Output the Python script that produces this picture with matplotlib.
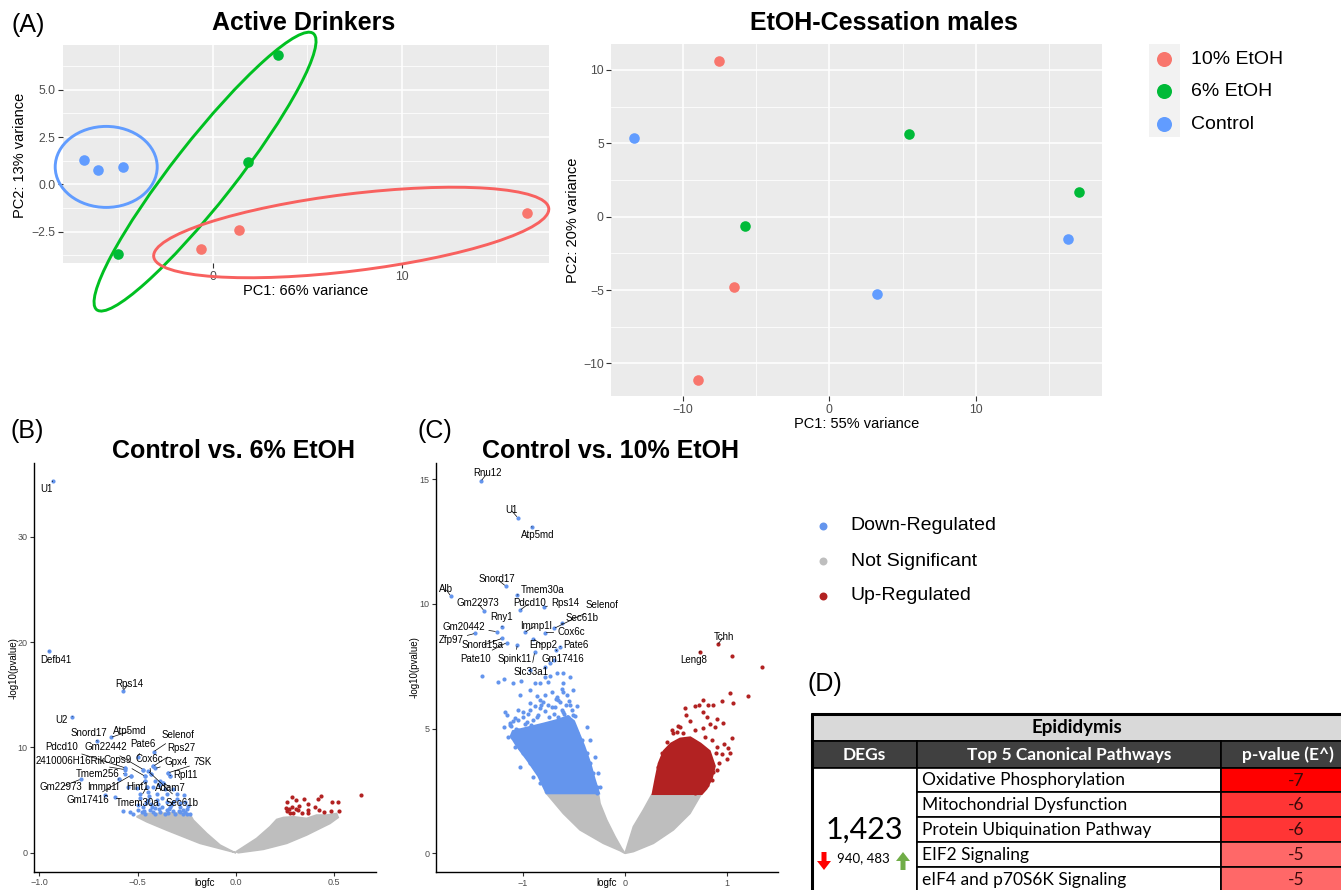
import numpy as np
import matplotlib
matplotlib.use('Agg')
import matplotlib.pyplot as plt
from matplotlib.patches import Ellipse, Rectangle, Polygon, FancyArrow
import matplotlib.transforms as mtransforms
from matplotlib.ticker import FixedLocator, FuncFormatter

plt.rcParams['font.family'] = ['Liberation Sans', 'DejaVu Sans']

# ---------------- DATA ----------------
groups = ['10% EtOH', '6% EtOH', 'Control']
group_colors = ['#F8766D', '#00BA38', '#619CFF']

# PCA: Active drinkers
act_pc1_e10 = [-0.65, 1.38, 16.64]
act_pc2_e10 = [-3.44, -2.43, -1.50]
act_pc1_e6 = [3.42, 1.83, -5.03]
act_pc2_e6 = [6.84, 1.20, -3.69]
act_pc1_ctl = [-6.83, -6.12, -4.80]
act_pc2_ctl = [1.29, 0.76, 0.93]

# PCA: EtOH-cessation males
ces_pc1_e10 = [-7.48, -6.52, -8.94]
ces_pc2_e10 = [10.63, -4.79, -11.16]
ces_pc1_e6 = [5.47, 17.06, -5.72]
ces_pc2_e6 = [5.62, 1.66, -0.63]
ces_pc1_ctl = [-13.34, 16.29, 3.24]
ces_pc2_ctl = [5.39, -1.54, -5.25]

# Volcano legend
reg_labels = ['Down-Regulated', 'Not Significant', 'Up-Regulated']
reg_colors = ['#6495ED', '#BEBEBE', '#B22222']

# Volcano B (Control vs 6% EtOH)
b_down_x = [-0.563, -0.536, -0.595, -0.471, -0.42, -0.434, -0.344, -0.336, -0.463, -0.464,
            -0.41, -0.386, -0.369, -0.549, -0.502, -0.454, -0.42, -0.39, -0.361, -0.319,
            -0.664, -0.614, -0.488, -0.446, -0.403, -0.353, -0.302, -0.263, -0.488, -0.446,
            -0.403, -0.353, -0.319, -0.285, -0.259, -0.471, -0.429, -0.378, -0.336, -0.285,
            -0.251, -0.573, -0.539, -0.522, -0.48, -0.437, -0.386, -0.353, -0.319, -0.285,
            -0.251, -0.463, -0.412, -0.361, -0.31, -0.268, -0.234, -0.395, -0.33, -0.27,
            -0.46, -0.5, -0.375, -0.3, -0.245, -0.42, -0.345, -0.44, -0.39, -0.29,
            -0.47, -0.41, -0.34, -0.26, -0.5, -0.43]
b_down_y = [8.06, 7.33, 7.02, 7.9, 8.22, 7.52, 7.59, 7.33, 7.27, 6.83,
            6.83, 6.79, 6.63, 6.25, 6.16, 6.25, 6.25, 6.41, 6.1, 6.1,
            5.46, 5.3, 5.62, 5.78, 5.62, 5.62, 5.62, 5.46, 5.24, 4.98,
            4.98, 4.83, 4.83, 4.73, 4.83, 4.35, 4.35, 4.35, 4.35, 4.35,
            4.19, 3.97, 3.87, 3.65, 3.87, 4.03, 3.87, 4.03, 3.97, 3.87,
            3.71, 3.71, 3.65, 3.71, 3.65, 3.65, 3.65, 4.6, 4.5, 4.1,
            4.7, 4.55, 5.2, 5.1, 4.4, 3.9, 3.8, 5.4, 4.15, 4.0,
            4.0, 4.25, 4.2, 3.9, 4.1, 4.6]
b_up_x = [0.283, 0.261, 0.305, 0.346, 0.364, 0.322, 0.254, 0.258, 0.275, 0.292,
          0.317, 0.334, 0.368, 0.368, 0.402, 0.424, 0.432, 0.415, 0.447, 0.486,
          0.52, 0.483, 0.525, 0.634, 0.305, 0.271, 0.286]
b_up_y = [5.32, 4.78, 5.0, 5.09, 4.59, 4.43, 4.21, 3.99, 3.80, 3.73,
          4.05, 3.73, 4.05, 3.73, 4.30, 4.05, 5.38, 5.06, 3.89, 4.84,
          4.84, 3.96, 3.99, 5.47, 4.11, 4.11, 4.37]
b_ns_left_x = [0.0, -0.183, -0.353, -0.454, -0.505, -0.471, -0.403, -0.319, -0.234,
               -0.217, -0.149, -0.081, -0.014]
b_ns_left_y = [0.0, 0.89, 2.15, 2.94, 3.42, 3.73, 3.73, 3.8, 3.67,
               3.1, 1.84, 0.73, 0.09]
b_ns_right_x = [0.0, 0.105, 0.173, 0.207, 0.241, 0.292, 0.359, 0.41, 0.461, 0.512,
                0.52, 0.478, 0.427, 0.359, 0.258, 0.139, 0.012]
b_ns_right_y = [0.09, 1.36, 2.47, 3.16, 3.35, 3.42, 3.26, 3.58, 3.58, 3.73,
                3.35, 2.78, 2.31, 1.68, 0.89, 0.32, 0.0]
b_lab_name = ['U1', 'Defb41', 'Rps14', 'U2', 'Snord17', 'Atp5md', 'Selenof', 'Pdcd10',
              'Gm22442', 'Pate6', 'Rps27', '2410006H16Rik', 'Cops9', 'Cox6c', 'Gpx4', '7SK',
              'Rpl11', 'Tmem256', 'Gm22973', 'Immp1l', 'Hint1', 'Adam7', 'Gm17416',
              'Tmem30a', 'Sec61b']
b_lab_tx = [-0.963, -0.917, -0.544, -0.885, -0.749, -0.539, -0.293, -0.888,
            -0.664, -0.475, -0.28, -0.841, -0.603, -0.441, -0.305, -0.169,
            -0.256, -0.705, -0.888, -0.675, -0.5, -0.332, -0.753, -0.5, -0.276]
b_lab_ty = [34.5, 18.3, 16.03, 12.6, 11.4, 11.56, 11.17, 10.0,
            10.0, 10.29, 9.9, 8.73, 8.79, 8.89, 8.63, 8.63,
            7.37, 7.52, 6.25, 6.25, 6.25, 6.19, 4.98, 4.76, 4.76]
b_lab_px = [-0.932, -0.951, -0.576, -0.832, -0.705, -0.636, -0.419, -0.563,
            -0.471, -0.497, -0.42, -0.566, -0.463, -0.434, -0.41, -0.344,
            -0.336, -0.564, -0.79, -0.595, -0.464, -0.369, -0.536, -0.454, -0.446]
b_lab_py = [35.3, 19.15, 15.37, 12.92, 10.6, 10.95, 9.59, 8.06,
            7.9, 9.11, 8.22, 7.9, 7.27, 7.52, 8.0, 7.59,
            7.33, 7.52, 6.98, 7.02, 6.83, 6.63, 7.33, 6.25, 7.75]

# Volcano C (Control vs 10% EtOH)
c_down_x = [-1.405, -1.242, -1.186, -1.095, -1.023, -0.931, -0.882, -0.833, -0.784, -0.735,
            -0.67, -0.605, -0.752, -0.719, -0.605, -0.654, -1.029, -1.176, -1.127, -1.111,
            -1.056, -1.029, -0.931, -0.833, -0.801, -0.784, -0.686, -0.539, -0.507, -0.556,
            -0.605, -0.866, -1.078, -0.964, -1.046, -0.474, -0.425, -0.376, -0.343, -0.31,
            -0.278, -0.931, -0.784, -0.735, -0.693,
            -1.127, -1.144, -1.078, -0.997, -1.029, -0.931, -0.899, -0.833,
            -0.376, -0.343, -0.294, -0.261, -0.245, -0.278,
            -0.833, -0.752, -0.67, -0.572, -0.507, -0.605, -0.539, -0.931, -0.997, -1.046,
            -1.19, -1.16, -0.47, -0.62, -0.86,
            -1.1, -1.0, -0.9, -0.95, -0.85, -0.78, -0.7, -0.72, -0.62, -0.58,
            -0.52, -0.55, -0.64, -0.82, -0.88, -1.05, -0.68, -0.6, -1.12, -0.98,
            -0.75, -0.66, -0.49, -0.92, -1.07]
c_down_y = [7.11, 6.89, 6.98, 6.84, 6.93, 6.55, 6.82, 6.82, 7.09, 7.11,
            7.22, 7.22, 6.89, 6.48, 6.46, 6.15, 6.35, 5.68, 5.15, 4.68,
            4.55, 4.21, 5.75, 5.82, 6.08, 6.35, 5.88, 5.95, 5.55, 5.48,
            5.68, 5.48, 5.41, 5.28, 4.95, 4.81, 4.55, 4.01, 3.61, 3.21,
            2.67, 7.35, 7.49, 7.62, 7.75,
            5.21, 4.68, 4.28, 4.01, 3.48, 3.61, 3.07, 2.81,
            5.08, 4.55, 3.88, 3.21, 2.67, 2.41,
            6.15, 5.95, 6.28, 6.35, 6.55, 6.82, 7.09, 6.02, 5.68, 5.35,
            5.05, 5.55, 5.9, 6.6, 6.3,
            5.3, 5.45, 5.35, 5.6, 5.55, 5.7, 5.6, 5.85, 5.75, 5.95,
            5.75, 6.1, 6.05, 5.95, 5.9, 5.75, 6.2, 5.6, 5.1, 5.2,
            5.45, 5.45, 5.5, 5.15, 5.0]
c_down_core_x = [-1.1, -0.95, -0.8, -0.66, -0.56, -0.5, -0.46, -0.4, -0.34, -0.3,
                 -0.255, -0.77, -0.85, -0.95, -1.06, -1.12]
c_down_core_y = [4.9, 5.05, 5.2, 5.35, 5.5, 5.3, 4.9, 4.3, 3.6, 3.0,
                 2.41, 2.41, 3.1, 3.7, 4.3, 4.7]
c_up_x = [1.046, 1.343, 1.209, 1.026, 1.062, 0.954, 0.761, 0.686, 0.725, 0.817,
          0.866, 0.592, 0.598, 0.761, 0.8, 0.637, 0.905, 0.833, 0.958, 0.882,
          0.768, 0.458, 0.523, 0.507, 0.572, 1.052, 0.971, 1.013, 0.948, 1.029,
          0.892, 0.997, 0.925, 0.866, 0.905, 0.85, 0.801, 0.752, 0.408, 0.359,
          0.415, 0.67, 0.686, 0.605, 0.761, 0.703, 0.719, 0.686,
          0.327, 0.376, 0.343, 0.474, 0.539, 0.686, 0.784, 0.85, 0.899, 0.833, 0.801]
c_up_y = [7.93, 7.49, 6.31, 6.42, 6.04, 6.12, 6.15, 5.92, 5.95, 5.94,
          5.95, 5.84, 5.55, 5.68, 5.48, 5.32, 5.4, 5.19, 5.21, 5.08,
          5.01, 4.95, 5.11, 4.88, 4.81, 4.61, 4.37, 4.21, 3.98, 4.01,
          4.01, 3.77, 3.61, 3.28, 3.34, 2.94, 2.74, 2.61, 4.48, 4.01,
          4.17, 4.25, 3.94, 3.81, 3.85, 3.68, 3.48, 2.41,
          3.48, 3.07, 2.67, 4.81, 5.08, 4.95, 4.68, 4.55, 4.28, 3.74, 3.34]
c_up_core_x = [0.271, 0.30, 0.33, 0.38, 0.45, 0.54, 0.64, 0.74, 0.83, 0.88, 0.85, 0.80, 0.752]
c_up_core_y = [2.38, 3.0, 3.6, 4.1, 4.4, 4.6, 4.65, 4.4, 4.1, 3.5, 3.0, 2.6, 2.38]
c_ns_left_x = [0.0, -0.049, -0.212, -0.441, -0.605, -0.784, -0.261, -0.245, -0.18, -0.098, -0.033]
c_ns_left_y = [0.0, 0.11, 0.4, 0.94, 1.6, 2.47, 2.41, 2.0, 1.34, 0.67, 0.2]
c_ns_right_x = [0.0, 0.082, 0.18, 0.261, 0.271, 0.752, 0.637, 0.474, 0.278, 0.082]
c_ns_right_y = [0.0, 1.07, 1.74, 2.34, 2.38, 2.41, 1.6, 0.94, 0.4, 0.07]
c_lab_name = ['Rnu12', 'U1', 'Atp5md', 'Snord17', 'Tmem30a', 'Alb', 'Gm22973', 'Pdcd10',
              'Rps14', 'Selenof', 'Sec61b', 'Rny1', 'Gm20442', 'Immp1l', 'Cox6c', 'Zfp97',
              'Snord15a', 'Pate10', 'Spink11', 'Enpp2', 'Pate6', 'Gm17416', 'Slc33a1',
              'Tchh', 'Leng8']
c_lab_up = [False] * 23 + [True, True]
c_lab_tx = [-1.35, -1.118, -0.856, -1.258, -0.807, -1.758, -1.444, -0.938,
            -0.582, -0.222, -0.422, -1.206, -1.585, -0.876, -0.523, -1.709,
            -1.395, -1.461, -1.078, -0.801, -0.48, -0.605, -0.922, 0.971, 0.67]
c_lab_ty = [15.24, 13.77, 12.77, 11.0, 10.56, 10.6, 10.03, 10.03,
            10.03, 9.96, 9.43, 9.48, 9.09, 9.13, 8.89, 8.56,
            8.34, 7.81, 7.81, 8.34, 8.34, 7.81, 7.29, 8.69, 7.75]
c_lab_px = [-1.412, -1.052, -0.915, -1.17, -1.056, -1.709, -1.382, -1.029,
            -0.791, -0.696, -0.621, -1.206, -1.258, -0.984, -0.784, -1.471,
            -1.206, -1.16, -1.056, -0.899, -0.637, -0.676, -0.886, 0.908, 0.735]
c_lab_py = [14.93, 13.46, 13.1, 10.72, 10.36, 10.32, 9.73, 9.75,
            9.89, 9.02, 9.22, 9.09, 8.89, 8.86, 8.85, 8.82,
            8.62, 8.45, 8.36, 8.6, 8.29, 8.16, 8.06, 8.38, 8.09]

# Table D
pathways = ['Oxidative Phosphorylation', 'Mitochondrial Dysfunction',
            'Protein Ubiquination Pathway', 'EIF2 Signaling', 'eIF4 and p70S6K Signaling']
pvals_exp = [-7, -6, -6, -5, -5]
deg_total = '1,423'
deg_down, deg_up = 940, 483

# ---------------- FIGURE ----------------
W, H = 1341, 890
fig = plt.figure(figsize=(W / 100, H / 100), dpi=100)


def add_ax(l, t, r, b, **kw):
    return fig.add_axes([l / W, 1 - b / H, (r - l) / W, (b - t) / H], **kw)


def uminus(fmt):
    return FuncFormatter(lambda v, p: fmt.format(v).replace('-', '\u2212'))


def gg_style(ax):
    ax.set_facecolor('#EBEBEB')
    for s in ax.spines.values():
        s.set_visible(False)
    ax.grid(which='major', color='white', lw=1.1)
    ax.grid(which='minor', color='white', lw=0.55)
    ax.set_axisbelow(True)
    ax.tick_params(which='major', length=3.5, width=0.8, color='#333333',
                   labelcolor='#4D4D4D', labelsize=8.8, pad=2)
    ax.tick_params(which='minor', length=0)


def px_ellipse(ax, cx, cy, w, h, ang, color):
    tr = mtransforms.Affine2D() + mtransforms.ScaledTranslation(cx, cy, ax.transData)
    ax.add_patch(Ellipse((0, 0), w, h, angle=ang, transform=tr, fill=False,
                         ec=color, lw=2.1, clip_on=False, zorder=6))


# --- PCA Active drinkers
axA = add_ax(63.2, 45, 548.9, 263.3)
gg_style(axA)
for xs, ys, c in [(act_pc1_e10, act_pc2_e10, group_colors[0]),
                  (act_pc1_e6, act_pc2_e6, group_colors[1]),
                  (act_pc1_ctl, act_pc2_ctl, group_colors[2])]:
    axA.scatter(xs, ys, s=58, color=c, lw=0, zorder=3)
axA.set_xlim(-7.95, 17.8)
axA.set_ylim(-4.18, 7.37)
axA.xaxis.set_major_locator(FixedLocator([0, 10]))
axA.xaxis.set_minor_locator(FixedLocator([-5, 5, 15]))
axA.yaxis.set_major_locator(FixedLocator([-2.5, 0, 2.5, 5.0]))
axA.yaxis.set_minor_locator(FixedLocator([-3.75, -1.25, 1.25, 3.75, 6.25]))
axA.yaxis.set_major_formatter(uminus('{:.1f}'))
axA.xaxis.set_major_formatter(uminus('{:.0f}'))
px_ellipse(axA, -5.67, 0.92, 102, 81, 0, '#619CFF')
px_ellipse(axA, -0.43, 0.67, 351, 62, 51.9, '#00C021')
px_ellipse(axA, 7.32, -2.55, 398, 77, 7.0, '#F8615F')

# --- PCA cessation
axB = add_ax(611.4, 44, 1102, 396)
gg_style(axB)
for xs, ys, c in [(ces_pc1_e10, ces_pc2_e10, group_colors[0]),
                  (ces_pc1_e6, ces_pc2_e6, group_colors[1]),
                  (ces_pc1_ctl, ces_pc2_ctl, group_colors[2])]:
    axB.scatter(xs, ys, s=58, color=c, lw=0, zorder=3)
axB.set_xlim(-14.85, 18.6)
axB.set_ylim(-12.22, 11.77)
axB.xaxis.set_major_locator(FixedLocator([-10, 0, 10]))
axB.xaxis.set_minor_locator(FixedLocator([-15, -5, 5, 15]))
axB.yaxis.set_major_locator(FixedLocator([-10, -5, 0, 5, 10]))
axB.yaxis.set_minor_locator(FixedLocator([-7.5, -2.5, 2.5, 7.5]))
axB.xaxis.set_major_formatter(uminus('{:.0f}'))
axB.yaxis.set_major_formatter(uminus('{:.0f}'))


def classic(ax):
    for s in ['top', 'right']:
        ax.spines[s].set_visible(False)
    for s in ['left', 'bottom']:
        ax.spines[s].set_linewidth(1.0)
        ax.spines[s].set_color('black')
    ax.tick_params(length=3, width=0.8, color='#333333', labelcolor='#4D4D4D',
                   labelsize=6.5, pad=1.5)


def volcano(ax, nsl, nsr, down, up, downcore, upcore, labs):
    for px, py in (nsl, nsr):
        ax.add_patch(Polygon(np.column_stack([px, py]), closed=True, fc=reg_colors[1],
                             ec=reg_colors[1], lw=1.2, zorder=1))
    if downcore is not None:
        ax.add_patch(Polygon(np.column_stack(downcore), closed=True, fc=reg_colors[0],
                             ec=reg_colors[0], lw=1.5, zorder=2))
    if upcore is not None:
        ax.add_patch(Polygon(np.column_stack(upcore), closed=True, fc=reg_colors[2],
                             ec=reg_colors[2], lw=1.5, zorder=2))
    ax.scatter(down[0], down[1], s=9, color=reg_colors[0], lw=0, zorder=3)
    ax.scatter(up[0], up[1], s=9, color=reg_colors[2], lw=0, zorder=3)
    names, tx, ty, px, py, isup = labs
    for n, a, b, c, d, u in zip(names, tx, ty, px, py, isup):
        ax.scatter([c], [d], s=9, color=reg_colors[2] if u else reg_colors[0], lw=0, zorder=3)
        ax.annotate(n, xy=(c, d), xytext=(a, b), ha='center', va='center', fontsize=7,
                    color='black', zorder=5,
                    arrowprops=dict(arrowstyle='-', lw=0.5, color='black',
                                    shrinkA=1, shrinkB=1))


# --- Volcano B
axV1 = add_ax(34, 463.3, 376, 871.7)
classic(axV1)
volcano(axV1, (b_ns_left_x, b_ns_left_y), (b_ns_right_x, b_ns_right_y),
        (b_down_x, b_down_y), (b_up_x, b_up_y), None, None,
        (b_lab_name, b_lab_tx, b_lab_ty, b_lab_px, b_lab_py, [False] * len(b_lab_name)))
axV1.set_xlim(-1.027, 0.712)
axV1.set_ylim(-1.80, 36.98)
axV1.set_xticks([-1.0, -0.5, 0.0, 0.5])
axV1.xaxis.set_major_formatter(uminus('{:.1f}'))
axV1.set_yticks([0, 10, 20, 30])

# --- Volcano C
axV2 = add_ax(435.7, 463.3, 777.7, 872.3)
classic(axV2)
volcano(axV2, (c_ns_left_x, c_ns_left_y), (c_ns_right_x, c_ns_right_y),
        (c_down_x, c_down_y), (c_up_x, c_up_y),
        (c_down_core_x, c_down_core_y), (c_up_core_x, c_up_core_y),
        (c_lab_name, c_lab_tx, c_lab_ty, c_lab_px, c_lab_py, c_lab_up))
axV2.set_xlim(-1.856, 1.497)
axV2.set_ylim(-0.76, 15.64)
axV2.set_xticks([-1, 0, 1])
axV2.xaxis.set_major_formatter(uminus('{:.0f}'))
axV2.set_yticks([0, 5, 10, 15])

# --- overlay (pixel coordinates)
ov = fig.add_axes([0, 0, 1, 1], zorder=10)
ov.set_xlim(0, W)
ov.set_ylim(H, 0)
ov.axis('off')
ov.patch.set_visible(False)

tkw = dict(ha='center', va='center', color='black')
ov.text(304, 23.5, 'Active Drinkers', fontsize=18, fontweight='bold', **tkw)
ov.text(884, 23.5, 'EtOH-Cessation males', fontsize=18, fontweight='bold', **tkw)
ov.text(233.8, 451, 'Control vs. 6% EtOH', fontsize=18, fontweight='bold', **tkw)
ov.text(611, 451, 'Control vs. 10% EtOH', fontsize=18, fontweight='bold', **tkw)
ov.text(27.7, 25, '(A)', fontsize=18, **tkw)
ov.text(27.5, 431, '(B)', fontsize=18, **tkw)
ov.text(435, 431, '(C)', fontsize=18, **tkw)
ov.text(825, 684, '(D)', fontsize=18, **tkw)

ov.text(305.4, 291, 'PC1: 66% variance', fontsize=10.5, **tkw)
ov.text(20.4, 155, 'PC2: 13% variance', fontsize=10.5, rotation=90, **tkw)
ov.text(856.8, 424, 'PC1: 55% variance', fontsize=10.5, **tkw)
ov.text(572.9, 220, 'PC2: 20% variance', fontsize=10.5, rotation=90, **tkw)
ov.text(13.3, 668, '-log10(pvalue)', fontsize=7, rotation=90, **tkw)
ov.text(415, 667, '-log10(pvalue)', fontsize=7, rotation=90, **tkw)
ov.text(205, 883.5, 'logfc', fontsize=7, **tkw)
ov.text(606.7, 883.5, 'logfc', fontsize=7, **tkw)

# PCA legend
ov.add_patch(Rectangle((1149, 44), 31, 93, fc='#F2F2F2', ec='none'))
for i, (g, c) in enumerate(zip(groups, group_colors)):
    yy = [59.3, 91, 124.3][i]
    ov.scatter([1164.3], [yy], s=117, color=c, lw=0)
    ov.text(1190.7, yy, g, fontsize=14, ha='left', va='center')

# Volcano legend
for i, (g, c) in enumerate(zip(reg_labels, reg_colors)):
    yy = [525.7, 561, 595.7][i]
    ov.scatter([823.3], [yy], s=33, color=c, lw=0)
    ov.text(850.7, yy, g, fontsize=14, ha='left', va='center')

# Table D
tf = ['Lato', 'DejaVu Sans']
cx = [812.4, 916.6, 1221, 1362]
ry = [713.5, 741, 767.7, 792.3, 817.3, 842.3, 867, 892]
ov.add_patch(Rectangle((cx[0], ry[0]), cx[3] - cx[0], ry[1] - ry[0], fc='#D9D9D9', ec='black', lw=1.2))
ov.text(1077, (ry[0] + ry[1]) / 2, 'Epididymis', fontsize=13.5,
        fontweight='bold', family=tf, **tkw)
heads = ['DEGs', 'Top 5 Canonical Pathways', 'p-value (E^)']
head_x = [864.5, 1068.8, 1288]
for j in range(3):
    ov.add_patch(Rectangle((cx[j], ry[1]), cx[j + 1] - cx[j], ry[2] - ry[1], fc='#404040',
                           ec='black', lw=1.2))
    ov.text(head_x[j], (ry[1] + ry[2]) / 2 + 0.5, heads[j], fontsize=12.5,
            fontweight='bold', family=tf, ha='center', va='center', color='white')
ov.add_patch(Rectangle((cx[0], ry[2]), cx[1] - cx[0], ry[7] - ry[2], fc='white', ec='black', lw=1.2))
pcol = {-7: '#FF0000', -6: '#FF3535', -5: '#FF6868'}
for i, (pw, pv) in enumerate(zip(pathways, pvals_exp)):
    y0, y1 = ry[2 + i], ry[3 + i]
    ov.add_patch(Rectangle((cx[1], y0), cx[2] - cx[1], y1 - y0, fc='white', ec='black', lw=1.2))
    ov.add_patch(Rectangle((cx[2], y0), cx[3] - cx[2], y1 - y0, fc=pcol[pv], ec='black', lw=1.2))
    ov.text(cx[1] + 5, (y0 + y1) / 2 + 0.5, pw, fontsize=12.5, family=tf, ha='left', va='center')
    ov.text(1296, (y0 + y1) / 2 + 0.5, str(pv), fontsize=12.5, family=tf,
            ha='center', va='center', color='#3A0A0A')
ov.plot([cx[0], cx[0], cx[3]], [H + 5, ry[0], ry[0]], color='black', lw=2.2)
ov.text(864.5, 830, deg_total, fontsize=22, family=tf, **tkw)
ov.text(863.5, 858.5, f'{deg_down}, {deg_up}', fontsize=9.5, family=tf, **tkw)
ov.add_patch(FancyArrow(824, 852, 0, 18, width=5, head_width=14, head_length=9,
                        length_includes_head=True, color='#FF0000', lw=0))
ov.add_patch(FancyArrow(903, 870, 0, -18, width=5, head_width=14, head_length=9,
                        length_includes_head=True, color='#70AD47', lw=0))

fig.savefig('out.png', dpi=100)
